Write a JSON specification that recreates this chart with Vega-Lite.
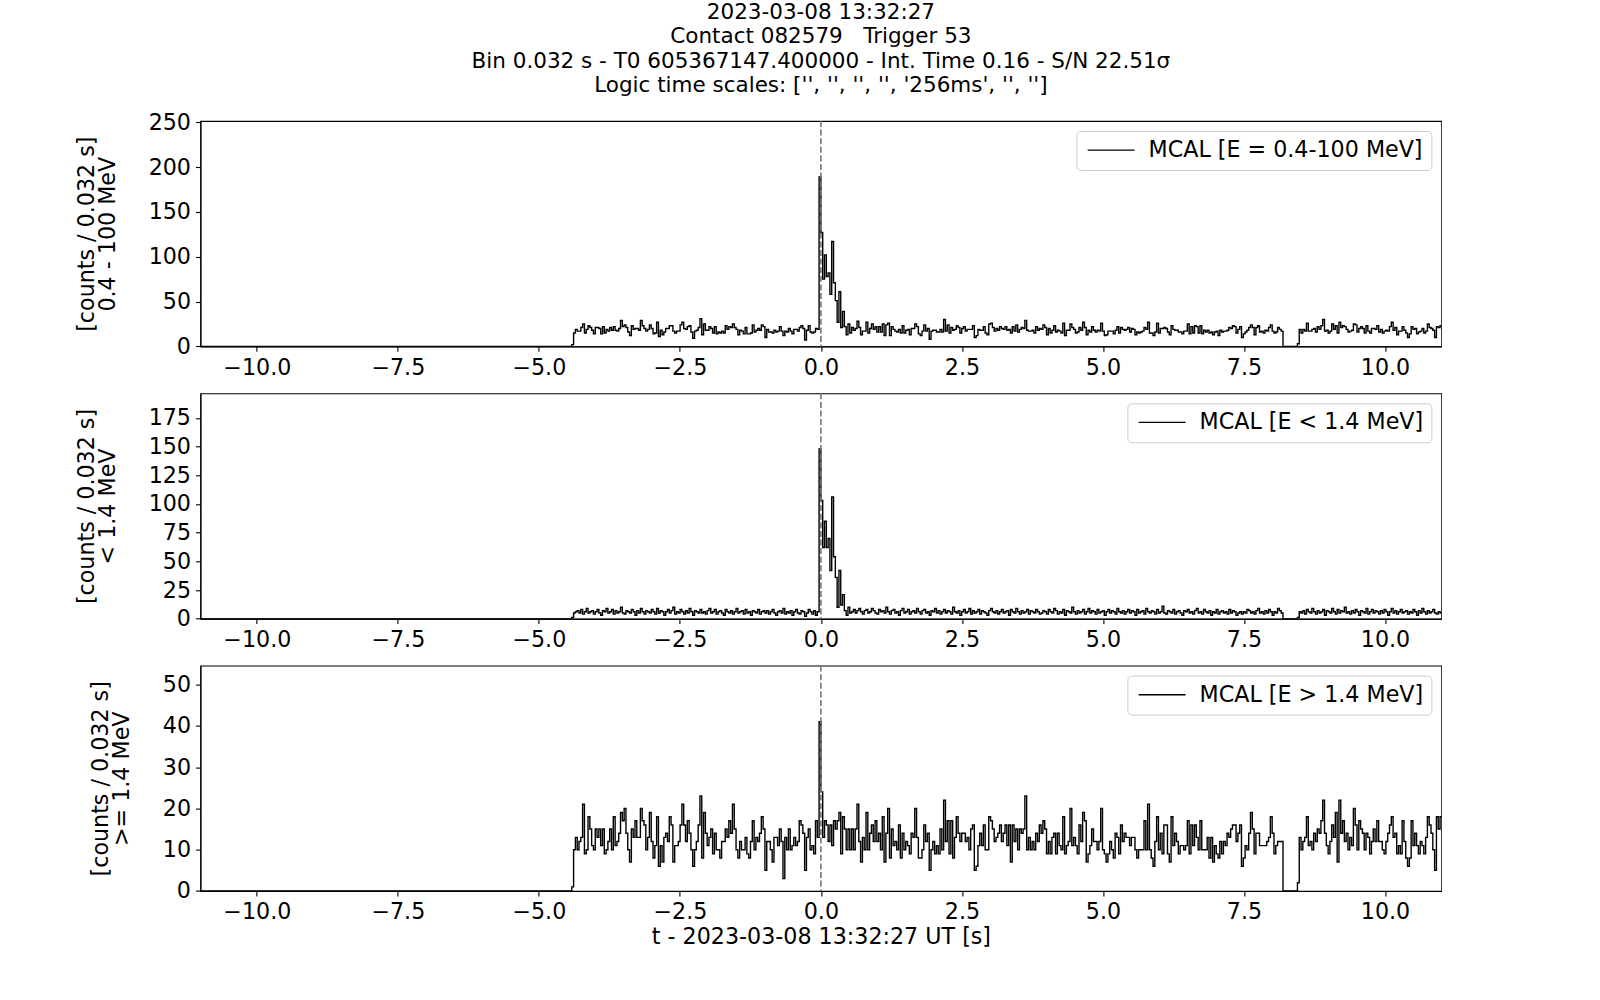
{
"$schema": "https://vega.github.io/schema/vega-lite/v6.json",
"background": "white",
"padding": {"left": 74.4, "top": 1, "right": 0, "bottom": 0},
"spacing": 46.3,
"bounds": "flush",
"config": {
  "font": "DejaVu Sans",
  "view": {"stroke": "black", "strokeWidth": 1.1},
  "axis": {"domainColor": "black", "domainWidth": 1.1, "tickColor": "black", "tickWidth": 1.1, "tickSize": 4.9, "labelPadding": 5, "labelFontSize": 22.2, "labelColor": "black", "labelFont": "DejaVu Sans", "titleFont": "DejaVu Sans", "titleFontSize": 22.2, "titleFontWeight": "normal", "titleColor": "black", "grid": false, "labelOverlap": false, "labelFlush": false},
  "axisY": {"titlePadding": 29, "titleLineHeight": 21},
  "axisX": {"titlePadding": 2},
  "legend": {"orient": "top-right", "offset": 10, "padding": 8, "strokeColor": "#cccccc", "fillColor": "rgba(255,255,255,0.8)", "cornerRadius": 4, "symbolType": "M-1,0H5", "symbolSize": 245, "symbolStrokeWidth": 1.4, "labelOffset": 42, "labelFontSize": 22.2, "labelFont": "DejaVu Sans", "labelColor": "black", "labelLimit": 600},
  "title": {"font": "DejaVu Sans", "fontSize": 21.5, "fontWeight": "normal", "color": "black"}
},
"resolve": {"scale": {"color": "independent"}},
"datasets": {"mcal": [
{"t":-11,"a":0,"b":0,"c":0},
{"t":-4.416,"a":2,"b":1,"c":1},
{"t":-4.384,"a":15,"b":5,"c":10},
{"t":-4.352,"a":19,"b":6,"c":13},
{"t":-4.32,"a":17,"b":7,"c":10},
{"t":-4.288,"a":17,"b":5,"c":12},
{"t":-4.256,"a":21,"b":8,"c":13},
{"t":-4.224,"a":25,"b":4,"c":21},
{"t":-4.192,"a":15,"b":6,"c":9},
{"t":-4.16,"a":19,"b":9,"c":10},
{"t":-4.128,"a":23,"b":5,"c":18},
{"t":-4.096,"a":21,"b":6,"c":15},
{"t":-4.064,"a":18,"b":7,"c":11},
{"t":-4.032,"a":14,"b":4,"c":10},
{"t":-4,"a":21,"b":6,"c":15},
{"t":-3.968,"a":21,"b":8,"c":13},
{"t":-3.936,"a":20,"b":5,"c":15},
{"t":-3.904,"a":14,"b":3,"c":11},
{"t":-3.872,"a":22,"b":7,"c":15},
{"t":-3.84,"a":15,"b":6,"c":9},
{"t":-3.808,"a":19,"b":9,"c":10},
{"t":-3.776,"a":17,"b":5,"c":12},
{"t":-3.744,"a":21,"b":6,"c":15},
{"t":-3.712,"a":18,"b":8,"c":10},
{"t":-3.68,"a":22,"b":4,"c":18},
{"t":-3.648,"a":18,"b":7,"c":11},
{"t":-3.616,"a":17,"b":5,"c":12},
{"t":-3.584,"a":20,"b":6,"c":14},
{"t":-3.552,"a":29,"b":10,"c":19},
{"t":-3.52,"a":22,"b":5,"c":17},
{"t":-3.488,"a":24,"b":4,"c":20},
{"t":-3.456,"a":21,"b":7,"c":14},
{"t":-3.424,"a":16,"b":6,"c":10},
{"t":-3.392,"a":12,"b":5,"c":7},
{"t":-3.36,"a":23,"b":8,"c":15},
{"t":-3.328,"a":19,"b":6,"c":13},
{"t":-3.296,"a":20,"b":3,"c":17},
{"t":-3.264,"a":20,"b":7,"c":13},
{"t":-3.232,"a":18,"b":5,"c":13},
{"t":-3.2,"a":29,"b":9,"c":20},
{"t":-3.168,"a":23,"b":6,"c":17},
{"t":-3.136,"a":20,"b":4,"c":16},
{"t":-3.104,"a":17,"b":7,"c":10},
{"t":-3.072,"a":19,"b":6,"c":13},
{"t":-3.04,"a":24,"b":5,"c":19},
{"t":-3.008,"a":20,"b":8,"c":12},
{"t":-2.976,"a":14,"b":6,"c":8},
{"t":-2.944,"a":15,"b":4,"c":11},
{"t":-2.912,"a":27,"b":9,"c":18},
{"t":-2.88,"a":11,"b":5,"c":6},
{"t":-2.848,"a":18,"b":7,"c":11},
{"t":-2.816,"a":13,"b":6,"c":7},
{"t":-2.784,"a":16,"b":3,"c":13},
{"t":-2.752,"a":20,"b":6,"c":14},
{"t":-2.72,"a":20,"b":8,"c":12},
{"t":-2.688,"a":23,"b":5,"c":18},
{"t":-2.656,"a":23,"b":7,"c":16},
{"t":-2.624,"a":17,"b":10,"c":7},
{"t":-2.592,"a":15,"b":4,"c":11},
{"t":-2.56,"a":17,"b":6,"c":11},
{"t":-2.528,"a":17,"b":5,"c":12},
{"t":-2.496,"a":24,"b":8,"c":16},
{"t":-2.464,"a":27,"b":6,"c":21},
{"t":-2.432,"a":20,"b":4,"c":16},
{"t":-2.4,"a":19,"b":7,"c":12},
{"t":-2.368,"a":22,"b":5,"c":17},
{"t":-2.336,"a":23,"b":9,"c":14},
{"t":-2.304,"a":16,"b":6,"c":10},
{"t":-2.272,"a":9,"b":3,"c":6},
{"t":-2.24,"a":17,"b":7,"c":10},
{"t":-2.208,"a":18,"b":6,"c":12},
{"t":-2.176,"a":21,"b":5,"c":16},
{"t":-2.144,"a":31,"b":8,"c":23},
{"t":-2.112,"a":13,"b":5,"c":8},
{"t":-2.08,"a":25,"b":6,"c":19},
{"t":-2.048,"a":18,"b":4,"c":14},
{"t":-2.016,"a":18,"b":7,"c":11},
{"t":-1.984,"a":22,"b":9,"c":13},
{"t":-1.952,"a":20,"b":5,"c":15},
{"t":-1.92,"a":15,"b":6,"c":9},
{"t":-1.888,"a":22,"b":8,"c":14},
{"t":-1.856,"a":14,"b":4,"c":10},
{"t":-1.824,"a":16,"b":6,"c":10},
{"t":-1.792,"a":15,"b":7,"c":8},
{"t":-1.76,"a":17,"b":5,"c":12},
{"t":-1.728,"a":15,"b":3,"c":12},
{"t":-1.696,"a":23,"b":8,"c":15},
{"t":-1.664,"a":19,"b":6,"c":13},
{"t":-1.632,"a":22,"b":5,"c":17},
{"t":-1.6,"a":21,"b":7,"c":14},
{"t":-1.568,"a":25,"b":4,"c":21},
{"t":-1.536,"a":21,"b":6,"c":15},
{"t":-1.504,"a":19,"b":9,"c":10},
{"t":-1.472,"a":13,"b":5,"c":8},
{"t":-1.44,"a":18,"b":6,"c":12},
{"t":-1.408,"a":17,"b":7,"c":10},
{"t":-1.376,"a":14,"b":4,"c":10},
{"t":-1.344,"a":21,"b":8,"c":13},
{"t":-1.312,"a":14,"b":5,"c":9},
{"t":-1.28,"a":14,"b":6,"c":8},
{"t":-1.248,"a":15,"b":3,"c":12},
{"t":-1.216,"a":24,"b":7,"c":17},
{"t":-1.184,"a":16,"b":6,"c":10},
{"t":-1.152,"a":18,"b":5,"c":13},
{"t":-1.12,"a":20,"b":8,"c":12},
{"t":-1.088,"a":18,"b":4,"c":14},
{"t":-1.056,"a":24,"b":6,"c":18},
{"t":-1.024,"a":22,"b":7,"c":15},
{"t":-0.992,"a":10,"b":5,"c":5},
{"t":-0.96,"a":19,"b":7,"c":12},
{"t":-0.928,"a":16,"b":4,"c":12},
{"t":-0.896,"a":16,"b":6,"c":10},
{"t":-0.864,"a":15,"b":8,"c":7},
{"t":-0.832,"a":18,"b":5,"c":13},
{"t":-0.8,"a":16,"b":3,"c":13},
{"t":-0.768,"a":17,"b":6,"c":11},
{"t":-0.736,"a":22,"b":7,"c":15},
{"t":-0.704,"a":17,"b":5,"c":12},
{"t":-0.672,"a":12,"b":9,"c":3},
{"t":-0.64,"a":17,"b":4,"c":13},
{"t":-0.608,"a":16,"b":6,"c":10},
{"t":-0.576,"a":20,"b":5,"c":15},
{"t":-0.544,"a":17,"b":7,"c":10},
{"t":-0.512,"a":14,"b":3,"c":11},
{"t":-0.48,"a":19,"b":6,"c":13},
{"t":-0.448,"a":19,"b":8,"c":11},
{"t":-0.416,"a":17,"b":5,"c":12},
{"t":-0.384,"a":21,"b":4,"c":17},
{"t":-0.352,"a":23,"b":7,"c":16},
{"t":-0.32,"a":20,"b":6,"c":14},
{"t":-0.288,"a":7,"b":2,"c":5},
{"t":-0.256,"a":18,"b":5,"c":13},
{"t":-0.224,"a":23,"b":8,"c":15},
{"t":-0.192,"a":16,"b":6,"c":10},
{"t":-0.16,"a":15,"b":4,"c":11},
{"t":-0.128,"a":16,"b":7,"c":9},
{"t":-0.096,"a":20,"b":3,"c":17},
{"t":-0.064,"a":19,"b":6,"c":13},
{"t":-0.032,"a":189,"b":148,"c":41},
{"t":0,"a":127,"b":103,"c":24},
{"t":0.032,"a":75,"b":62,"c":13},
{"t":0.064,"a":102,"b":85,"c":17},
{"t":0.096,"a":78,"b":62,"c":16},
{"t":0.128,"a":82,"b":70,"c":12},
{"t":0.16,"a":58,"b":42,"c":16},
{"t":0.192,"a":117,"b":106,"c":11},
{"t":0.224,"a":71,"b":54,"c":17},
{"t":0.256,"a":51,"b":36,"c":15},
{"t":0.288,"a":27,"b":10,"c":17},
{"t":0.32,"a":61,"b":42,"c":19},
{"t":0.352,"a":21,"b":12,"c":9},
{"t":0.384,"a":39,"b":21,"c":18},
{"t":0.416,"a":22,"b":7,"c":15},
{"t":0.448,"a":13,"b":3,"c":10},
{"t":0.48,"a":25,"b":10,"c":15},
{"t":0.512,"a":15,"b":5,"c":10},
{"t":0.544,"a":21,"b":6,"c":15},
{"t":0.576,"a":18,"b":8,"c":10},
{"t":0.608,"a":20,"b":5,"c":15},
{"t":0.64,"a":28,"b":7,"c":21},
{"t":0.672,"a":21,"b":9,"c":12},
{"t":0.704,"a":13,"b":6,"c":7},
{"t":0.736,"a":17,"b":4,"c":13},
{"t":0.768,"a":17,"b":7,"c":10},
{"t":0.8,"a":27,"b":8,"c":19},
{"t":0.832,"a":15,"b":5,"c":10},
{"t":0.864,"a":20,"b":6,"c":14},
{"t":0.896,"a":25,"b":9,"c":16},
{"t":0.928,"a":19,"b":7,"c":12},
{"t":0.96,"a":22,"b":5,"c":17},
{"t":0.992,"a":16,"b":4,"c":12},
{"t":1.024,"a":22,"b":8,"c":14},
{"t":1.056,"a":16,"b":6,"c":10},
{"t":1.088,"a":25,"b":7,"c":18},
{"t":1.12,"a":12,"b":5,"c":7},
{"t":1.152,"a":24,"b":10,"c":14},
{"t":1.184,"a":26,"b":6,"c":20},
{"t":1.216,"a":12,"b":4,"c":8},
{"t":1.248,"a":22,"b":7,"c":15},
{"t":1.28,"a":19,"b":8,"c":11},
{"t":1.312,"a":17,"b":5,"c":12},
{"t":1.344,"a":16,"b":6,"c":10},
{"t":1.376,"a":19,"b":3,"c":16},
{"t":1.408,"a":15,"b":7,"c":8},
{"t":1.44,"a":23,"b":9,"c":14},
{"t":1.472,"a":15,"b":5,"c":10},
{"t":1.504,"a":18,"b":6,"c":12},
{"t":1.536,"a":19,"b":8,"c":11},
{"t":1.568,"a":13,"b":4,"c":9},
{"t":1.6,"a":20,"b":6,"c":14},
{"t":1.632,"a":20,"b":7,"c":13},
{"t":1.664,"a":25,"b":5,"c":20},
{"t":1.696,"a":22,"b":9,"c":13},
{"t":1.728,"a":14,"b":6,"c":8},
{"t":1.76,"a":12,"b":4,"c":8},
{"t":1.792,"a":17,"b":7,"c":10},
{"t":1.824,"a":24,"b":8,"c":16},
{"t":1.856,"a":17,"b":5,"c":12},
{"t":1.888,"a":20,"b":6,"c":14},
{"t":1.92,"a":8,"b":3,"c":5},
{"t":1.952,"a":17,"b":7,"c":10},
{"t":1.984,"a":18,"b":6,"c":12},
{"t":2.016,"a":18,"b":9,"c":9},
{"t":2.048,"a":16,"b":5,"c":11},
{"t":2.08,"a":16,"b":7,"c":9},
{"t":2.112,"a":19,"b":4,"c":15},
{"t":2.144,"a":16,"b":6,"c":10},
{"t":2.176,"a":30,"b":8,"c":22},
{"t":2.208,"a":17,"b":5,"c":12},
{"t":2.24,"a":24,"b":7,"c":17},
{"t":2.272,"a":15,"b":6,"c":9},
{"t":2.304,"a":21,"b":4,"c":17},
{"t":2.336,"a":18,"b":10,"c":8},
{"t":2.368,"a":19,"b":6,"c":13},
{"t":2.4,"a":23,"b":5,"c":18},
{"t":2.432,"a":21,"b":7,"c":14},
{"t":2.464,"a":15,"b":3,"c":12},
{"t":2.496,"a":20,"b":6,"c":14},
{"t":2.528,"a":22,"b":8,"c":14},
{"t":2.56,"a":17,"b":5,"c":12},
{"t":2.592,"a":19,"b":6,"c":13},
{"t":2.624,"a":19,"b":9,"c":10},
{"t":2.656,"a":19,"b":4,"c":15},
{"t":2.688,"a":23,"b":7,"c":16},
{"t":2.72,"a":10,"b":5,"c":5},
{"t":2.752,"a":12,"b":6,"c":6},
{"t":2.784,"a":19,"b":8,"c":11},
{"t":2.816,"a":18,"b":4,"c":14},
{"t":2.848,"a":18,"b":7,"c":11},
{"t":2.88,"a":22,"b":6,"c":16},
{"t":2.912,"a":15,"b":5,"c":10},
{"t":2.944,"a":13,"b":3,"c":10},
{"t":2.976,"a":25,"b":7,"c":18},
{"t":3.008,"a":26,"b":9,"c":17},
{"t":3.04,"a":21,"b":6,"c":15},
{"t":3.072,"a":17,"b":5,"c":12},
{"t":3.104,"a":20,"b":7,"c":13},
{"t":3.136,"a":18,"b":4,"c":14},
{"t":3.168,"a":22,"b":6,"c":16},
{"t":3.2,"a":20,"b":8,"c":12},
{"t":3.232,"a":19,"b":5,"c":14},
{"t":3.264,"a":22,"b":6,"c":16},
{"t":3.296,"a":18,"b":7,"c":11},
{"t":3.328,"a":19,"b":3,"c":16},
{"t":3.36,"a":15,"b":8,"c":7},
{"t":3.392,"a":22,"b":6,"c":16},
{"t":3.424,"a":17,"b":5,"c":12},
{"t":3.456,"a":24,"b":9,"c":15},
{"t":3.488,"a":16,"b":6,"c":10},
{"t":3.52,"a":19,"b":4,"c":15},
{"t":3.552,"a":21,"b":7,"c":14},
{"t":3.584,"a":20,"b":5,"c":15},
{"t":3.616,"a":29,"b":6,"c":23},
{"t":3.648,"a":18,"b":8,"c":10},
{"t":3.68,"a":17,"b":4,"c":13},
{"t":3.712,"a":17,"b":7,"c":10},
{"t":3.744,"a":18,"b":6,"c":12},
{"t":3.776,"a":15,"b":5,"c":10},
{"t":3.808,"a":22,"b":8,"c":14},
{"t":3.84,"a":18,"b":6,"c":12},
{"t":3.872,"a":20,"b":4,"c":16},
{"t":3.904,"a":19,"b":5,"c":14},
{"t":3.936,"a":24,"b":7,"c":17},
{"t":3.968,"a":21,"b":6,"c":15},
{"t":4,"a":13,"b":4,"c":9},
{"t":4.032,"a":20,"b":8,"c":12},
{"t":4.064,"a":15,"b":6,"c":9},
{"t":4.096,"a":18,"b":5,"c":13},
{"t":4.128,"a":23,"b":9,"c":14},
{"t":4.16,"a":16,"b":7,"c":9},
{"t":4.192,"a":18,"b":4,"c":14},
{"t":4.224,"a":17,"b":6,"c":11},
{"t":4.256,"a":15,"b":5,"c":10},
{"t":4.288,"a":26,"b":8,"c":18},
{"t":4.32,"a":12,"b":3,"c":9},
{"t":4.352,"a":18,"b":7,"c":11},
{"t":4.384,"a":18,"b":6,"c":12},
{"t":4.416,"a":25,"b":5,"c":20},
{"t":4.448,"a":21,"b":10,"c":11},
{"t":4.48,"a":19,"b":6,"c":13},
{"t":4.512,"a":15,"b":4,"c":11},
{"t":4.544,"a":16,"b":7,"c":9},
{"t":4.576,"a":21,"b":5,"c":16},
{"t":4.608,"a":18,"b":6,"c":12},
{"t":4.64,"a":27,"b":8,"c":19},
{"t":4.672,"a":21,"b":4,"c":17},
{"t":4.704,"a":13,"b":6,"c":7},
{"t":4.736,"a":18,"b":9,"c":9},
{"t":4.768,"a":16,"b":5,"c":11},
{"t":4.8,"a":22,"b":7,"c":15},
{"t":4.832,"a":18,"b":6,"c":12},
{"t":4.864,"a":16,"b":4,"c":12},
{"t":4.896,"a":18,"b":8,"c":10},
{"t":4.928,"a":17,"b":5,"c":12},
{"t":4.96,"a":26,"b":6,"c":20},
{"t":4.992,"a":17,"b":7,"c":10},
{"t":5.024,"a":12,"b":3,"c":9},
{"t":5.056,"a":13,"b":6,"c":7},
{"t":5.088,"a":17,"b":8,"c":9},
{"t":5.12,"a":17,"b":5,"c":12},
{"t":5.152,"a":17,"b":7,"c":10},
{"t":5.184,"a":14,"b":6,"c":8},
{"t":5.216,"a":18,"b":4,"c":14},
{"t":5.248,"a":22,"b":9,"c":13},
{"t":5.28,"a":15,"b":6,"c":9},
{"t":5.312,"a":21,"b":5,"c":16},
{"t":5.344,"a":19,"b":7,"c":12},
{"t":5.376,"a":18,"b":4,"c":14},
{"t":5.408,"a":19,"b":6,"c":13},
{"t":5.44,"a":21,"b":8,"c":13},
{"t":5.472,"a":16,"b":5,"c":11},
{"t":5.504,"a":20,"b":7,"c":13},
{"t":5.536,"a":19,"b":6,"c":13},
{"t":5.568,"a":13,"b":3,"c":10},
{"t":5.6,"a":16,"b":8,"c":8},
{"t":5.632,"a":15,"b":5,"c":10},
{"t":5.664,"a":16,"b":6,"c":10},
{"t":5.696,"a":17,"b":7,"c":10},
{"t":5.728,"a":21,"b":4,"c":17},
{"t":5.76,"a":19,"b":9,"c":10},
{"t":5.792,"a":27,"b":6,"c":21},
{"t":5.824,"a":15,"b":5,"c":10},
{"t":5.856,"a":15,"b":7,"c":8},
{"t":5.888,"a":12,"b":6,"c":6},
{"t":5.92,"a":16,"b":4,"c":12},
{"t":5.952,"a":26,"b":8,"c":18},
{"t":5.984,"a":15,"b":5,"c":10},
{"t":6.016,"a":20,"b":6,"c":14},
{"t":6.048,"a":20,"b":11,"c":9},
{"t":6.08,"a":21,"b":5,"c":16},
{"t":6.112,"a":20,"b":4,"c":16},
{"t":6.144,"a":16,"b":7,"c":9},
{"t":6.176,"a":13,"b":6,"c":7},
{"t":6.208,"a":23,"b":5,"c":18},
{"t":6.24,"a":19,"b":8,"c":11},
{"t":6.272,"a":18,"b":4,"c":14},
{"t":6.304,"a":18,"b":6,"c":12},
{"t":6.336,"a":16,"b":7,"c":9},
{"t":6.368,"a":16,"b":5,"c":11},
{"t":6.4,"a":14,"b":3,"c":11},
{"t":6.432,"a":17,"b":7,"c":10},
{"t":6.464,"a":17,"b":6,"c":11},
{"t":6.496,"a":25,"b":8,"c":17},
{"t":6.528,"a":14,"b":5,"c":9},
{"t":6.56,"a":22,"b":6,"c":16},
{"t":6.592,"a":15,"b":4,"c":11},
{"t":6.624,"a":23,"b":7,"c":16},
{"t":6.656,"a":22,"b":9,"c":13},
{"t":6.688,"a":15,"b":5,"c":10},
{"t":6.72,"a":23,"b":6,"c":17},
{"t":6.752,"a":14,"b":4,"c":10},
{"t":6.784,"a":18,"b":8,"c":10},
{"t":6.816,"a":16,"b":6,"c":10},
{"t":6.848,"a":18,"b":5,"c":13},
{"t":6.88,"a":15,"b":7,"c":8},
{"t":6.912,"a":16,"b":3,"c":13},
{"t":6.944,"a":13,"b":6,"c":7},
{"t":6.976,"a":16,"b":5,"c":11},
{"t":7.008,"a":17,"b":8,"c":9},
{"t":7.04,"a":12,"b":4,"c":8},
{"t":7.072,"a":18,"b":6,"c":12},
{"t":7.104,"a":16,"b":7,"c":9},
{"t":7.136,"a":17,"b":5,"c":12},
{"t":7.168,"a":17,"b":6,"c":11},
{"t":7.2,"a":18,"b":4,"c":14},
{"t":7.232,"a":21,"b":8,"c":13},
{"t":7.264,"a":20,"b":5,"c":15},
{"t":7.296,"a":23,"b":7,"c":16},
{"t":7.328,"a":22,"b":6,"c":16},
{"t":7.36,"a":15,"b":3,"c":12},
{"t":7.392,"a":19,"b":5,"c":14},
{"t":7.424,"a":22,"b":6,"c":16},
{"t":7.456,"a":10,"b":4,"c":6},
{"t":7.488,"a":14,"b":6,"c":8},
{"t":7.52,"a":16,"b":5,"c":11},
{"t":7.552,"a":18,"b":8,"c":10},
{"t":7.584,"a":21,"b":7,"c":14},
{"t":7.616,"a":24,"b":5,"c":19},
{"t":7.648,"a":21,"b":6,"c":15},
{"t":7.68,"a":13,"b":4,"c":9},
{"t":7.712,"a":21,"b":7,"c":14},
{"t":7.744,"a":23,"b":9,"c":14},
{"t":7.776,"a":16,"b":5,"c":11},
{"t":7.808,"a":17,"b":6,"c":11},
{"t":7.84,"a":15,"b":4,"c":11},
{"t":7.872,"a":18,"b":7,"c":11},
{"t":7.904,"a":17,"b":5,"c":12},
{"t":7.936,"a":21,"b":8,"c":13},
{"t":7.968,"a":24,"b":6,"c":18},
{"t":8,"a":17,"b":3,"c":14},
{"t":8.032,"a":15,"b":6,"c":9},
{"t":8.064,"a":16,"b":5,"c":11},
{"t":8.096,"a":21,"b":9,"c":12},
{"t":8.128,"a":19,"b":7,"c":12},
{"t":8.16,"a":17,"b":5,"c":12},
{"t":8.192,"a":0,"b":0,"c":0},
{"t":8.224,"a":0,"b":0,"c":0},
{"t":8.256,"a":0,"b":0,"c":0},
{"t":8.288,"a":0,"b":0,"c":0},
{"t":8.32,"a":0,"b":0,"c":0},
{"t":8.352,"a":0,"b":0,"c":0},
{"t":8.384,"a":0,"b":0,"c":0},
{"t":8.416,"a":0,"b":0,"c":0},
{"t":8.448,"a":3,"b":1,"c":2},
{"t":8.48,"a":19,"b":6,"c":13},
{"t":8.512,"a":15,"b":5,"c":10},
{"t":8.544,"a":19,"b":7,"c":12},
{"t":8.576,"a":17,"b":4,"c":13},
{"t":8.608,"a":26,"b":8,"c":18},
{"t":8.64,"a":17,"b":6,"c":11},
{"t":8.672,"a":17,"b":5,"c":12},
{"t":8.704,"a":19,"b":9,"c":10},
{"t":8.736,"a":20,"b":6,"c":14},
{"t":8.768,"a":16,"b":4,"c":12},
{"t":8.8,"a":22,"b":7,"c":15},
{"t":8.832,"a":19,"b":5,"c":14},
{"t":8.864,"a":23,"b":6,"c":17},
{"t":8.896,"a":30,"b":8,"c":22},
{"t":8.928,"a":17,"b":3,"c":14},
{"t":8.96,"a":18,"b":7,"c":11},
{"t":8.992,"a":15,"b":6,"c":9},
{"t":9.024,"a":17,"b":5,"c":12},
{"t":9.056,"a":25,"b":9,"c":16},
{"t":9.088,"a":19,"b":6,"c":13},
{"t":9.12,"a":23,"b":4,"c":19},
{"t":9.152,"a":15,"b":8,"c":7},
{"t":9.184,"a":27,"b":5,"c":22},
{"t":9.216,"a":21,"b":7,"c":14},
{"t":9.248,"a":23,"b":6,"c":17},
{"t":9.28,"a":22,"b":10,"c":12},
{"t":9.312,"a":19,"b":5,"c":14},
{"t":9.344,"a":16,"b":6,"c":10},
{"t":9.376,"a":17,"b":4,"c":13},
{"t":9.408,"a":18,"b":7,"c":11},
{"t":9.44,"a":25,"b":5,"c":20},
{"t":9.472,"a":24,"b":8,"c":16},
{"t":9.504,"a":16,"b":6,"c":10},
{"t":9.536,"a":20,"b":3,"c":17},
{"t":9.568,"a":22,"b":7,"c":15},
{"t":9.6,"a":20,"b":6,"c":14},
{"t":9.632,"a":15,"b":5,"c":10},
{"t":9.664,"a":23,"b":9,"c":14},
{"t":9.696,"a":17,"b":4,"c":13},
{"t":9.728,"a":15,"b":6,"c":9},
{"t":9.76,"a":20,"b":8,"c":12},
{"t":9.792,"a":20,"b":5,"c":15},
{"t":9.824,"a":19,"b":7,"c":12},
{"t":9.856,"a":23,"b":6,"c":17},
{"t":9.888,"a":16,"b":4,"c":12},
{"t":9.92,"a":19,"b":7,"c":12},
{"t":9.952,"a":15,"b":5,"c":10},
{"t":9.984,"a":17,"b":8,"c":9},
{"t":10.016,"a":18,"b":6,"c":12},
{"t":10.048,"a":17,"b":3,"c":14},
{"t":10.08,"a":22,"b":6,"c":16},
{"t":10.112,"a":27,"b":9,"c":18},
{"t":10.144,"a":18,"b":5,"c":13},
{"t":10.176,"a":21,"b":7,"c":14},
{"t":10.208,"a":13,"b":4,"c":9},
{"t":10.24,"a":17,"b":6,"c":11},
{"t":10.272,"a":17,"b":8,"c":9},
{"t":10.304,"a":22,"b":5,"c":17},
{"t":10.336,"a":18,"b":6,"c":12},
{"t":10.368,"a":15,"b":7,"c":8},
{"t":10.4,"a":10,"b":4,"c":6},
{"t":10.432,"a":14,"b":6,"c":8},
{"t":10.464,"a":22,"b":5,"c":17},
{"t":10.496,"a":19,"b":8,"c":11},
{"t":10.528,"a":20,"b":6,"c":14},
{"t":10.56,"a":14,"b":3,"c":11},
{"t":10.592,"a":16,"b":7,"c":9},
{"t":10.624,"a":17,"b":5,"c":12},
{"t":10.656,"a":20,"b":9,"c":11},
{"t":10.688,"a":15,"b":6,"c":9},
{"t":10.72,"a":17,"b":4,"c":13},
{"t":10.752,"a":25,"b":7,"c":18},
{"t":10.784,"a":21,"b":5,"c":16},
{"t":10.816,"a":20,"b":6,"c":14},
{"t":10.848,"a":18,"b":8,"c":10},
{"t":10.88,"a":10,"b":5,"c":5},
{"t":10.912,"a":22,"b":4,"c":18},
{"t":10.944,"a":21,"b":6,"c":15},
{"t":10.976,"a":23,"b":5,"c":18},
{"t":11.008,"a":23,"b":5,"c":18}
]},
"vconcat": [
{
  "width": 1241, "height": 225.4,
  "title": {"text": ["2023-03-08 13:32:27", "Contact 082579\u00a0\u00a0\u00a0Trigger 53", "Bin 0.032 s - T0 605367147.400000 - Int. Time 0.16 - S/N 22.51σ", "Logic time scales: ['', '', '', '', '256ms', '', '']"], "anchor": "middle", "frame": "group", "lineHeight": 24.5, "offset": 14.2},
  "layer": [
    {"data": {"name": "mcal"},
     "mark": {"type": "line", "interpolate": "step-after", "strokeWidth": 1.4, "clip": true},
     "encoding": {
       "x": {"field": "t", "type": "quantitative", "scale": {"domain": [-11, 11], "nice": false, "zero": false}, "axis": {"values": [-10, -7.5, -5, -2.5, 0, 2.5, 5, 7.5, 10], "format": ".1f", "title": null}},
       "y": {"field": "a", "type": "quantitative", "scale": {"domain": [0, 251.3], "nice": false}, "axis": {"values": [0, 50, 100, 150, 200, 250], "format": "d", "title": ["[counts / 0.032 s]", "0.4 - 100 MeV"]}},
       "color": {"datum": "MCAL [E = 0.4-100 MeV]", "type": "nominal", "scale": {"range": ["black"]}, "legend": {"title": null}}
     }},
    {"data": {"values": [{"z": 0}]},
     "mark": {"type": "rule", "color": "#777777", "strokeWidth": 1.6, "strokeDash": [6, 2.6]},
     "encoding": {"x": {"field": "z", "type": "quantitative"}}}
  ]
},
{
  "width": 1241, "height": 225.4,
  "layer": [
    {"data": {"name": "mcal"},
     "mark": {"type": "line", "interpolate": "step-after", "strokeWidth": 1.4, "clip": true},
     "encoding": {
       "x": {"field": "t", "type": "quantitative", "scale": {"domain": [-11, 11], "nice": false, "zero": false}, "axis": {"values": [-10, -7.5, -5, -2.5, 0, 2.5, 5, 7.5, 10], "format": ".1f", "title": null}},
       "y": {"field": "b", "type": "quantitative", "scale": {"domain": [0, 196.4], "nice": false}, "axis": {"values": [0, 25, 50, 75, 100, 125, 150, 175], "format": "d", "title": ["[counts / 0.032 s]", "< 1.4 MeV"]}},
       "color": {"datum": "MCAL [E < 1.4 MeV]", "type": "nominal", "scale": {"range": ["black"]}, "legend": {"title": null}}
     }},
    {"data": {"values": [{"z": 0}]},
     "mark": {"type": "rule", "color": "#777777", "strokeWidth": 1.6, "strokeDash": [6, 2.6]},
     "encoding": {"x": {"field": "z", "type": "quantitative"}}}
  ]
},
{
  "width": 1241, "height": 225.4,
  "layer": [
    {"data": {"name": "mcal"},
     "mark": {"type": "line", "interpolate": "step-after", "strokeWidth": 1.4, "clip": true},
     "encoding": {
       "x": {"field": "t", "type": "quantitative", "scale": {"domain": [-11, 11], "nice": false, "zero": false}, "axis": {"values": [-10, -7.5, -5, -2.5, 0, 2.5, 5, 7.5, 10], "format": ".1f", "title": "t - 2023-03-08 13:32:27 UT [s]"}},
       "y": {"field": "c", "type": "quantitative", "scale": {"domain": [0, 54.6], "nice": false}, "axis": {"values": [0, 10, 20, 30, 40, 50], "format": "d", "title": ["[counts / 0.032 s]", ">= 1.4 MeV"]}},
       "color": {"datum": "MCAL [E > 1.4 MeV]", "type": "nominal", "scale": {"range": ["black"]}, "legend": {"title": null}}
     }},
    {"data": {"values": [{"z": 0}]},
     "mark": {"type": "rule", "color": "#777777", "strokeWidth": 1.6, "strokeDash": [6, 2.6]},
     "encoding": {"x": {"field": "z", "type": "quantitative"}}}
  ]
}
]
}
